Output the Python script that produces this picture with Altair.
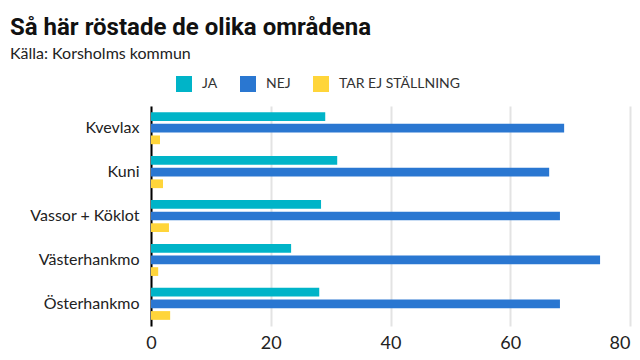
import altair as alt
import pandas as pd

areas = ["Kvevlax", "Kuni", "Vassor + Köklot", "Västerhankmo", "Österhankmo"]
series = ["JA", "NEJ", "TAR EJ STÄLLNING"]
ja = [29.1, 31.1, 28.4, 23.4, 28.1]
nej = [69.0, 66.5, 68.3, 75.0, 68.3]
tar = [1.5, 2.0, 3.0, 1.2, 3.2]
colors = ["#00b4c8", "#2a77d1", "#ffd53a"]
x_ticks = [0, 20, 40, 60, 80]

rows = []
for i, a in enumerate(areas):
    for s, vals in zip(series, [ja, nej, tar]):
        rows.append({"Område": a, "Svar": s, "Procent": vals[i]})
df = pd.DataFrame(rows)

FONT = "Lato"

chart = alt.Chart(df).mark_bar().encode(
    y=alt.Y("Område:N", sort=areas,
            scale=alt.Scale(paddingInner=0.27, paddingOuter=0.14),
            axis=alt.Axis(title=None, domain=True, domainColor="black", domainWidth=2,
                          ticks=False, labelFontSize=16, labelColor="#222", labelPadding=12,
                          minExtent=141, maxExtent=141, labelFont=FONT, labelLimit=200)),
    yOffset=alt.YOffset("Svar:N", sort=series, scale=alt.Scale(paddingInner=0.25)),
    x=alt.X("Procent:Q", scale=alt.Scale(domain=[0, 80]),
            axis=alt.Axis(values=x_ticks, title=None, domain=False, ticks=False, grid=True,
                          gridColor="#e3e3e3", gridWidth=2, labelFontSize=18, labelPadding=8,
                          labelColor="#222", labelFont=FONT, labelFlush=False,
                          labelAlign=alt.expr("datum.value == 80 ? 'right' : 'center'"))),
    color=alt.Color("Svar:N", sort=series, scale=alt.Scale(domain=series, range=colors),
                    legend=alt.Legend(title=None, orient="none", direction="horizontal",
                                      legendX=25, legendY=-30, symbolType="square",
                                      symbolSize=256, symbolStrokeWidth=0, labelFontSize=14,
                                      labelColor="#333", labelFont=FONT, labelOffset=10,
                                      columnPadding=22)),
).properties(
    width=479, height=220,
    padding={"left": 2, "top": 8, "right": 2, "bottom": 0},
    title=alt.TitleParams(
        text="Så här röstade de olika områdena",
        subtitle="Källa: Korsholms kommun",
        anchor="start", frame="bounds", font="Roboto", fontSize=24,
        fontWeight="bold", color="#111", subtitleFont=FONT, subtitleFontSize=16,
        subtitleColor="#222", subtitlePadding=6, offset=14,
    ),
).configure_view(stroke=None)

chart.save("out.html", embed_options={"renderer": "svg", "actions": False})
